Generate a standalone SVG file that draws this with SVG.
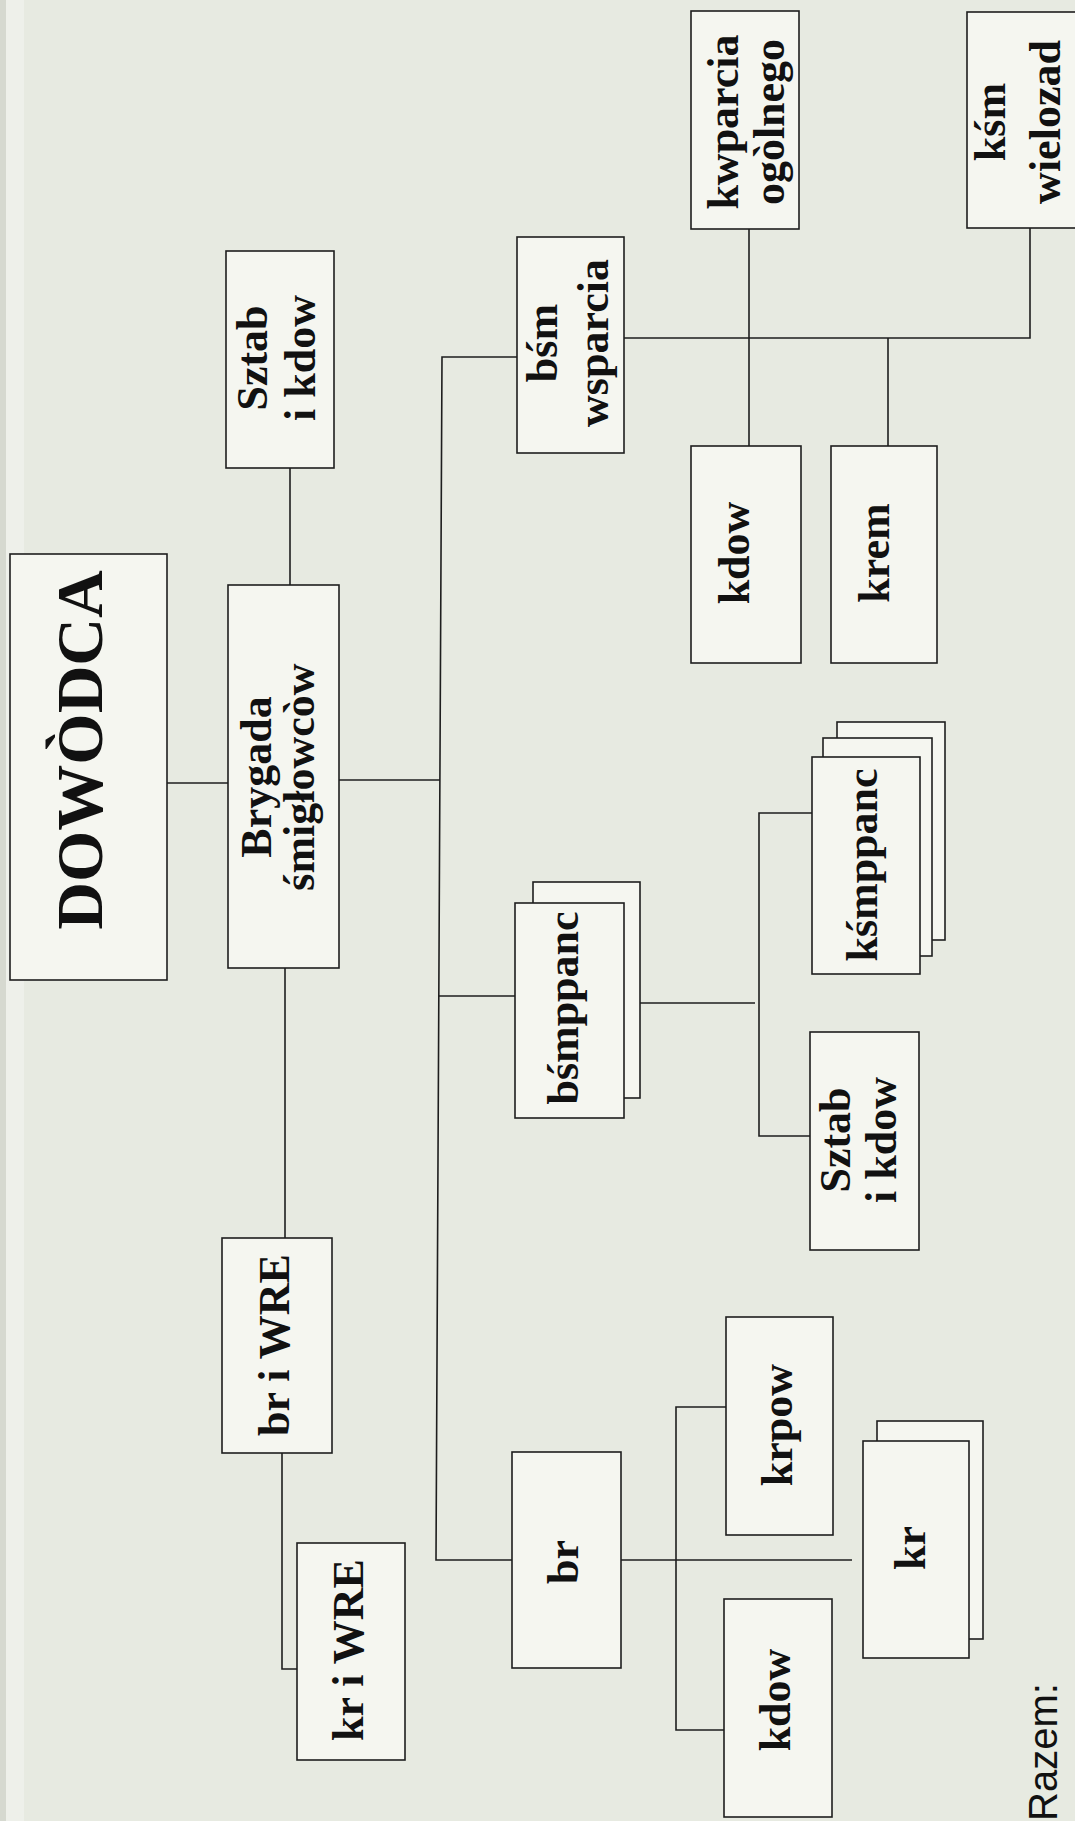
<svg xmlns="http://www.w3.org/2000/svg" width="1075" height="1821" viewBox="0 0 1075 1821">
<style>
.box{fill:#f5f6f0;stroke:#1e1e1e;stroke-width:1.6}
.lbl{font-family:"Liberation Serif","Times New Roman",serif;font-weight:bold;font-size:44px;fill:#111;text-anchor:middle}
.con{fill:none;stroke:#1e1e1e;stroke-width:1.6}
</style>
<rect width="1075" height="1821" fill="#e7eae1"/>
<rect x="0" y="0" width="6" height="1821" fill="#d6d9d0"/>
<rect x="6" y="0" width="18" height="1821" fill="#eef0ea"/>
<g id="connectors">
<path class="con" d="M167,783 H228"/>
<path class="con" d="M290,468 V585"/>
<path class="con" d="M285,968 V1238"/>
<path class="con" d="M282,1453 V1669 H297"/>
<path class="con" d="M339,780 H440"/>
<path class="con" d="M517,357 H442 L436,1560 H512"/>
<path class="con" d="M439,996 H515"/>
<path class="con" d="M640,1003 H755"/>
<path class="con" d="M812,813 H759 V1136 H810"/>
<path class="con" d="M624,338 H1030 V228"/>
<path class="con" d="M749,229 V446"/>
<path class="con" d="M888,338 V446"/>
<path class="con" d="M621,1560 H852"/>
<path class="con" d="M726,1407 H676 V1730 H724"/>
</g>
<g id="dowodca">
<rect class="box" x="10" y="554" width="157" height="426"/>
<text class="lbl" style="font-size:66px" transform="translate(102,750) rotate(-90)">DOWÒDCA</text>
</g>
<g id="sztab-top">
<rect class="box" x="226" y="251" width="108" height="217"/>
<text class="lbl" transform="translate(267,358) rotate(-90)">Sztab</text>
<text class="lbl" transform="translate(315,358) rotate(-90)">i kdow</text>
</g>
<g id="brygada">
<rect class="box" x="228" y="585" width="111" height="383"/>
<text class="lbl" transform="translate(271,777) rotate(-90)">Brygada</text>
<text class="lbl" transform="translate(314,777) rotate(-90)">śmigłowcòw</text>
</g>
<g id="br-i-wre">
<rect class="box" x="222" y="1238" width="110" height="215"/>
<text class="lbl" transform="translate(289,1345) rotate(-90)">br i WRE</text>
</g>
<g id="kr-i-wre">
<rect class="box" x="297" y="1543" width="108" height="217"/>
<text class="lbl" transform="translate(363,1650) rotate(-90)">kr i WRE</text>
</g>
<g id="bsm-wsparcia">
<rect class="box" x="517" y="237" width="107" height="216"/>
<text class="lbl" transform="translate(557,343) rotate(-90)">bśm</text>
<text class="lbl" transform="translate(608,343) rotate(-90)">wsparcia</text>
</g>
<g id="kwparcia">
<rect class="box" x="691" y="11" width="108" height="218"/>
<text class="lbl" transform="translate(738,122) rotate(-90)">kwparcia</text>
<text class="lbl" transform="translate(784,122) rotate(-90)">ogòlnego</text>
</g>
<g id="ksm-wielozad">
<rect class="box" x="967" y="12" width="115" height="216"/>
<text class="lbl" transform="translate(1005,122) rotate(-90)">kśm</text>
<text class="lbl" transform="translate(1060,122) rotate(-90)">wielozad</text>
</g>
<g id="kdow-upper">
<rect class="box" x="691" y="446" width="110" height="217"/>
<text class="lbl" transform="translate(749,553) rotate(-90)">kdow</text>
</g>
<g id="krem">
<rect class="box" x="831" y="446" width="106" height="217"/>
<text class="lbl" transform="translate(889,553) rotate(-90)">krem</text>
</g>
<g id="bsmppanc">
<rect class="box" x="533" y="882" width="107" height="216"/>
<rect class="box" x="515" y="903" width="109" height="215"/>
<text class="lbl" transform="translate(578,1008) rotate(-90)">bśmppanc</text>
</g>
<g id="ksmppanc">
<rect class="box" x="837" y="722" width="108" height="218"/>
<rect class="box" x="823" y="738" width="109" height="218"/>
<rect class="box" x="812" y="757" width="108" height="217"/>
<text class="lbl" transform="translate(877,865) rotate(-90)">kśmppanc</text>
</g>
<g id="sztab-lower">
<rect class="box" x="810" y="1032" width="109" height="218"/>
<text class="lbl" transform="translate(850,1140) rotate(-90)">Sztab</text>
<text class="lbl" transform="translate(896,1140) rotate(-90)">i kdow</text>
</g>
<g id="br">
<rect class="box" x="512" y="1452" width="109" height="216"/>
<text class="lbl" transform="translate(578,1562) rotate(-90)">br</text>
</g>
<g id="krpow">
<rect class="box" x="726" y="1317" width="107" height="218"/>
<text class="lbl" transform="translate(792,1425) rotate(-90)">krpow</text>
</g>
<g id="kdow-lower">
<rect class="box" x="724" y="1599" width="108" height="218"/>
<text class="lbl" transform="translate(790,1700) rotate(-90)">kdow</text>
</g>
<g id="kr">
<rect class="box" x="877" y="1421" width="106" height="218"/>
<rect class="box" x="863" y="1441" width="106" height="217"/>
<text class="lbl" transform="translate(925,1548) rotate(-90)">kr</text>
</g>
<text font-family="'Liberation Sans',Arial,sans-serif" font-size="40" fill="#111" transform="translate(1057,1821) rotate(-90)">Razem:</text>
</svg>
